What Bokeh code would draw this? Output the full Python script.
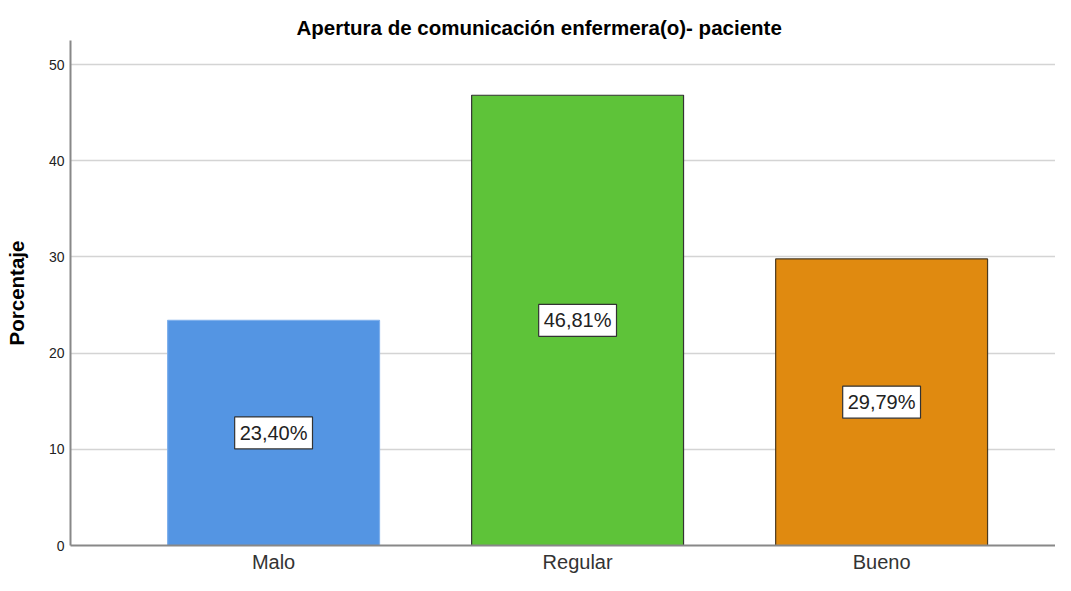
from bokeh.plotting import figure
from bokeh.models import ColumnDataSource, FixedTicker, Title
from bokeh.core.properties import value
from bokeh.embed import file_html
from bokeh.resources import INLINE

categories = ["Malo", "Regular", "Bueno"]
values = [23.40, 46.81, 29.79]
labels = ["23,40%", "46,81%", "29,79%"]
colors = ["#5495E3", "#5EC339", "#E08A10"]
outlines = ["#7FB0EC", "#333333", "#4a3a20"]

xs = list(range(len(categories)))
src = ColumnDataSource(dict(x=xs, top=values, mid=[v / 2 for v in values],
                            lab=labels, color=colors, outline=outlines))

p = figure(width=1055, height=575, output_backend="svg", toolbar_location=None,
           x_range=(-0.668, 2.572), y_range=(0, 52.5),
           min_border_left=70, min_border_right=0, min_border_top=40, min_border_bottom=0)

p.title = Title(text="Apertura de comunicación enfermera(o)- paciente", align="left",
                text_font="Liberation Sans", text_font_size="20.5px", text_font_style="bold",
                text_color="#000000", offset=226, standoff=4)

p.vbar(x="x", top="top", bottom=0, width=0.697, fill_color="color",
       line_color="outline", line_width=1.2, source=src)

p.text(x="x", y="mid", text="lab", source=src, text_align="center",
       text_baseline="middle", text_font=value("Liberation Sans"), text_font_size="20px",
       text_color="#222222", background_fill_color="white",
       border_line_color="#333333", border_line_width=1.2, padding=5)

p.xaxis.ticker = FixedTicker(ticks=xs)
p.xaxis.major_label_overrides = {i: c for i, c in enumerate(categories)}
p.xaxis.major_label_text_font = "Liberation Sans"
p.xaxis.major_label_text_font_size = "20px"
p.xaxis.major_label_text_color = "#333333"
p.xaxis.major_tick_line_color = None
p.xaxis.major_tick_out = 0
p.xaxis.major_tick_in = 0
p.xaxis.minor_tick_line_color = None
p.xaxis.axis_line_color = "#888888"
p.xaxis.axis_line_width = 2
p.xaxis.major_label_standoff = 5

p.yaxis.ticker = FixedTicker(ticks=[0, 10, 20, 30, 40, 50])
p.yaxis.major_label_text_font = "Liberation Sans"
p.yaxis.major_label_text_font_size = "14px"
p.yaxis.major_label_text_color = "#222222"
p.yaxis.major_tick_line_color = None
p.yaxis.major_tick_out = 0
p.yaxis.major_tick_in = 0
p.yaxis.minor_tick_line_color = None
p.yaxis.axis_line_color = "#888888"
p.yaxis.axis_line_width = 2
p.yaxis.major_label_standoff = 6
p.yaxis.axis_label = "Porcentaje"
p.yaxis.axis_label_text_font = "Liberation Sans"
p.yaxis.axis_label_text_font_size = "20.5px"
p.yaxis.axis_label_text_font_style = "bold"
p.yaxis.axis_label_text_color = "#000000"
p.yaxis.axis_label_standoff = 18

p.xgrid.grid_line_color = None
p.ygrid.grid_line_color = "#d4d4d4"
p.ygrid.grid_line_width = 1.5
p.outline_line_color = None
p.background_fill_color = "white"
p.border_fill_color = "white"

open("out.html", "w").write(file_html(p, INLINE))
